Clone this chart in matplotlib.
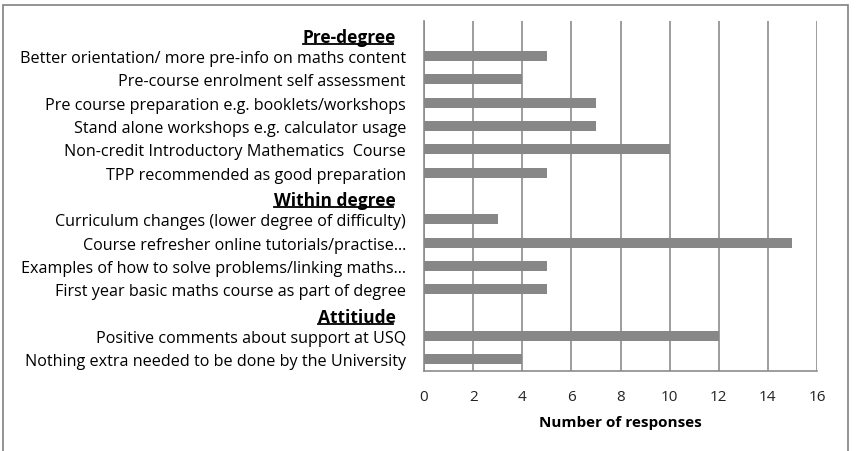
import matplotlib
matplotlib.use("Agg")
import matplotlib.pyplot as plt
from matplotlib.lines import Line2D
from matplotlib.patches import Rectangle
from matplotlib.transforms import ScaledTranslation

plt.rcParams['font.family'] = ['Open Sans', 'DejaVu Sans']

# rows from top to bottom; None marks a section header row
labels = ["Pre-degree",
          "Better orientation/ more pre-info on maths content",
          "Pre-course enrolment self assessment",
          "Pre course preparation e.g. booklets/workshops",
          "Stand alone workshops e.g. calculator usage",
          "Non-credit Introductory Mathematics  Course",
          "TPP recommended as good preparation",
          "Within degree",
          "Curriculum changes (lower degree of difficulty)",
          "Course refresher online tutorials/practise...",
          "Examples of how to solve problems/linking maths...",
          "First year basic maths course as part of degree",
          "Attitiude",
          "Positive comments about support at USQ",
          "Nothing extra needed to be done by the University"]
values = [None, 5, 4, 7, 7, 10, 5, None, 3, 15, 5, 5, None, 12, 4]
headers = ["Pre-degree", "Within degree", "Attitiude"]
xticks = [0, 2, 4, 6, 8, 10, 12, 14, 16]

fig = plt.figure(figsize=(8.57, 4.52), dpi=100)
ax = fig.add_axes([424/857, 1 - 372/452, 393/857, 350/452])

ypos = list(range(len(labels)))
bar_y = [y for y, v in zip(ypos, values) if v is not None]
bar_v = [v for v in values if v is not None]
ax.barh(bar_y, bar_v, height=0.42, color='#878787', zorder=3)

ax.set_ylim(len(labels) - 0.5, -0.5)
ax.set_xlim(0, 16)
ax.set_xticks(xticks)
ax.set_yticks(ypos)
ax.set_yticklabels(labels, fontsize=11.6)
ax.tick_params(axis='y', length=0, pad=13)
ax.tick_params(axis='x', length=0, pad=13, labelsize=11, colors='#222222')
ax.xaxis.grid(True, color='#8c8c8c', lw=1.2, zorder=0)
for s in ['top', 'right']:
    ax.spines[s].set_visible(False)
for s in ['left', 'bottom']:
    ax.spines[s].set_color('#8c8c8c')
    ax.spines[s].set_linewidth(1.2)
ax.set_xlabel("Number of responses", fontsize=11, fontweight='bold', labelpad=8)

shift = ScaledTranslation(-10/100, -2.5/100, fig.dpi_scale_trans)
for lab in ax.get_yticklabels():
    if lab.get_text() in headers:
        lab.set_fontweight('bold')
        lab.set_fontsize(12.5)
        lab.set_transform(lab.get_transform() + shift)

# underline the section headers
fig.canvas.draw()
r = fig.canvas.get_renderer()
inv = fig.transFigure.inverted()
for lab in ax.get_yticklabels():
    if lab.get_text() in headers:
        bb = lab.get_window_extent(r).transformed(inv)
        fig.add_artist(Line2D([bb.x0, bb.x1 - 0.004], [bb.y0 + 0.005, bb.y0 + 0.005],
                              transform=fig.transFigure, color='black', lw=1.3))

# chart border
fig.add_artist(Rectangle((3/857, -0.1), 845/857, 1.1 - 6/452, transform=fig.transFigure,
                         fill=False, edgecolor='#808080', lw=1.2))

fig.savefig("out.png", dpi=100)
